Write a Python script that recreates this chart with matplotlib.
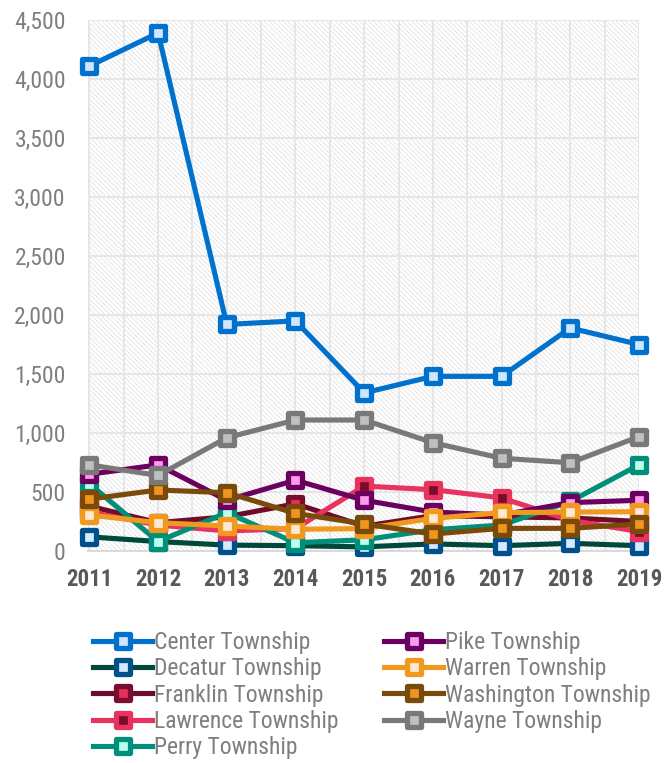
import matplotlib
matplotlib.use("Agg")
import matplotlib.pyplot as plt
from matplotlib.markers import MarkerStyle
from matplotlib.patches import Rectangle
from matplotlib import font_manager
import numpy as np

# fonts: want something narrow like the original
names = {f.name for f in font_manager.fontManager.ttflist}
fam = [n for n in ["Liberation Sans Narrow", "Roboto Condensed", "Roboto", "DejaVu Sans"] if n in names]
plt.rcParams["font.family"] = fam

years = ["2011", "2012", "2013", "2014", "2015", "2016", "2017", "2018", "2019"]

center = [4110, 4390, 1920, 1950, 1340, 1480, 1480, 1890, 1750]
decatur = [120, 80, 50, 45, 35, 60, 45, 65, 45]
franklin = [380, 240, 290, 400, 210, 300, 290, 280, 250]
lawrence = [330, 220, 170, 190, 550, 520, 450, 260, 165]
perry = [570, 80, 325, 70, 95, 180, 220, 420, 730]
pike = [650, 730, 430, 600, 430, 330, 305, 410, 430]
warren = [305, 240, 212, 184, 190, 277, 325, 330, 333]
washington = [440, 517, 494, 319, 229, 144, 192, 192, 229]
wayne = [730, 640, 960, 1110, 1110, 918, 786, 748, 969]

series = [
    ("Center Township", center, "#0072CE", "#0072CE", "#CFE6FF"),
    ("Decatur Township", decatur, "#00483A", "#00508C", "#D3EAFF"),
    ("Franklin Township", franklin, "#6E0C2A", "#7A0E30", "#E8305A"),
    ("Lawrence Township", lawrence, "#E8335E", "#E8335E", "#7A0C2A"),
    ("Perry Township", perry, "#008F7A", "#008F7A", "#B8FFEE"),
    ("Pike Township", pike, "#6A0060", "#6A0060", "#FF99EE"),
    ("Warren Township", warren, "#F0991E", "#F0991E", "#FDE8D2"),
    ("Washington Township", washington, "#7A4A0A", "#7A4A0A", "#F0961E"),
    ("Wayne Township", wayne, "#7A7878", "#7A7878", "#C0C0C0"),
]

fig = plt.figure(figsize=(6.64, 7.63), dpi=100)
ax = fig.add_axes([88 / 664, 1 - 551 / 763, 551 / 664, 531 / 763])

x = np.arange(len(years))
ax.set_xlim(-0.02, 8.0)
ax.set_ylim(0, 4500)

# hatched background
plt.rcParams["hatch.linewidth"] = 0.6
ax.add_patch(Rectangle((0, 0), 1, 1, transform=ax.transAxes, facecolor="white",
                       edgecolor="#E2E2E2", hatch="\\" * 7, linewidth=0, zorder=0))

for v in np.arange(0, 8.01, 0.5):
    ax.axvline(v, color="#E6E6E6", lw=1.4, zorder=1)
for v in range(500, 4501, 500):
    ax.axhline(v, color="#E6E6E6", lw=1.4, zorder=1)

mk = MarkerStyle("s", joinstyle="round")
handles = []
for i, (name, vals, lc, ec, fc) in enumerate(series):
    h, = ax.plot(x, vals, color=lc, lw=3.7, marker=mk, markersize=9.5,
                 markeredgewidth=3.8, markeredgecolor=ec, markerfacecolor=fc,
                 solid_joinstyle="round", label=name, zorder=3 + i, clip_on=False)
    handles.append(h)

for s in ["top", "right", "left"]:
    ax.spines[s].set_visible(False)
ax.spines["bottom"].set_color("#D9D9D9")
ax.spines["bottom"].set_linewidth(1.4)

ax.set_xticks(x)
ax.set_xticklabels(years, fontsize=16.5, fontweight="bold", color="#595959")
ax.set_yticks(range(0, 4501, 500))
ax.set_yticklabels([f"{v:,}" for v in range(0, 4501, 500)], fontsize=17, color="#7F7F7F")
ax.tick_params(axis="both", length=0)
ax.tick_params(axis="y", pad=16)
ax.tick_params(axis="x", pad=12)

leg_kw = dict(frameon=False, fontsize=17, labelcolor="#7F7F7F", handlelength=2.5,
              handletextpad=0.1, labelspacing=0.14, borderpad=0, borderaxespad=0,
              loc="upper left")
leg1 = fig.legend(handles=handles[:5], bbox_to_anchor=(93 / 664, 1 - 631 / 763), **leg_kw)
leg2 = fig.legend(handles=handles[5:], bbox_to_anchor=(384 / 664, 1 - 631 / 763), **leg_kw)

fig.savefig("out.png", dpi=100)
